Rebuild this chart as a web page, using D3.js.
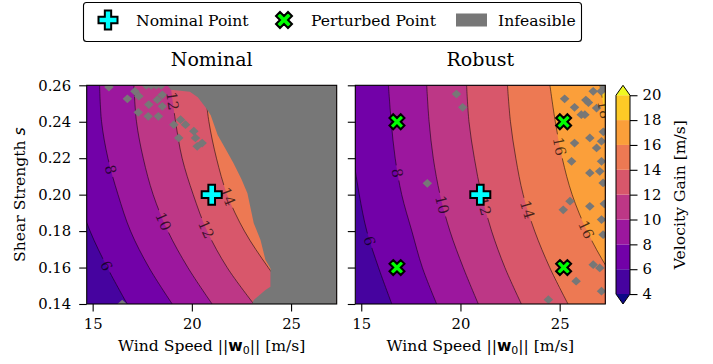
<!DOCTYPE html>
<html>
<head>
<meta charset="utf-8">
<script src="https://cdn.jsdelivr.net/npm/d3@7"></script>
<style>
  body { margin: 0; background: #fff; }
  text { font-family: "DejaVu Serif", serif; }
</style>
</head>
<body>
<svg id="chart" width="713" height="364"></svg>
<script>
// grid extent of the sweep (nominal +-30%)
const windRange = [14.7, 27.3];
const shearRange = [0.14, 0.26];

// shear rows at which the contour crossings were read
const shearRows = [0.14, 0.16, 0.18, 0.20, 0.22, 0.24, 0.26];

// nominal design: wind speed where each contour level crosses each shear row
const nominalLevels = [6, 8, 10, 12, 14];
const nominalWind = [
  [16.74, 15.74, 14.87, 14.22, 13.75, 13.45, 13.30],
  [19.01, 17.84, 16.91, 16.28, 15.77, 15.45, 15.35],
  [21.02, 19.80, 18.79, 18.05, 17.55, 17.21, 17.08],
  [23.12, 21.78, 20.77, 20.07, 19.51, 19.18, 18.93],
  [25.20, 23.85, 22.65, 21.78, 21.24, 20.86, 20.64]
];

// robust design
const robustLevels = [6, 8, 10, 12, 14, 16, 18];
const robustWind = [
  [16.54, 15.87, 15.28, 14.90, 14.61, 14.40, 14.28],
  [18.80, 18.08, 17.55, 17.04, 16.71, 16.51, 16.37],
  [20.90, 20.14, 19.47, 18.97, 18.63, 18.42, 18.30],
  [23.07, 22.24, 21.57, 21.06, 20.70, 20.43, 20.31],
  [25.42, 24.50, 23.74, 23.16, 22.79, 22.52, 22.37],
  [28.58, 27.38, 26.38, 25.63, 25.13, 24.78, 24.51],
  [31.00, 29.70, 28.70, 28.00, 27.60, 27.35, 27.03]
];

// inline contour labels: level and shear where they sit
const nominalLabelLevels = [6, 8, 10, 12, 14, 12];
const nominalLabelShear = [0.161, 0.2137, 0.1853, 0.181, 0.199, 0.2514];
const robustLabelLevels = [6, 8, 10, 12, 14, 16, 16, 18];
const robustLabelShear = [0.1747, 0.2119, 0.1945, 0.1936, 0.1918, 0.2265, 0.1808, 0.2466];

// infeasible region of the nominal design (edge, top to bottom)
const nominalInfeasibleEdge = [
  [18.75, 0.26], [18.95, 0.2575], [19.9, 0.2565], [20.3, 0.2535], [20.75, 0.247],
  [20.95, 0.2435], [21.3, 0.2327], [21.7, 0.225], [22.1, 0.2172], [22.5, 0.2085],
  [22.8, 0.2007], [23.12, 0.1843], [23.46, 0.1751], [23.71, 0.1641], [23.96, 0.1596],
  [23.96, 0.1495], [23.71, 0.1477], [23.12, 0.1422], [23.04, 0.14]
];

// isolated infeasible grid points [wind, shear]
const nominalInfeasible = [
  [15.82, 0.259], [16.49, 0.14], [16.75, 0.2526], [17.13, 0.2567], [17.33, 0.254],
  [17.30, 0.2452], [17.80, 0.243], [18.31, 0.243], [17.83, 0.2494], [18.26, 0.2521],
  [18.51, 0.2548], [18.51, 0.2485], [17.7, 0.26], [17.95, 0.26], [18.2, 0.26],
  [18.45, 0.26], [19.09, 0.2384], [19.43, 0.2411], [19.68, 0.2384], [19.34, 0.2311],
  [20.10, 0.2348], [20.18, 0.2311], [20.52, 0.2283], [20.27, 0.2265]
];
const robustInfeasible = [
  [19.80, 0.2552], [20.11, 0.2479], [18.33, 0.2062], [25.25, 0.2526], [25.75, 0.2479],
  [26.09, 0.2439], [26.32, 0.2519], [26.45, 0.2505], [26.69, 0.2567], [27.09, 0.2567],
  [27.25, 0.259], [26.86, 0.2475], [26.27, 0.2439], [26.52, 0.2311], [27.11, 0.2293],
  [26.86, 0.2256], [27.11, 0.2183], [25.75, 0.2283], [25.60, 0.2183], [26.52, 0.2119],
  [27.02, 0.2128], [27.19, 0.2064], [25.52, 0.1964], [25.18, 0.1917], [26.52, 0.1936],
  [27.11, 0.1863], [27.19, 0.178], [26.69, 0.1616], [27.02, 0.1598], [25.83, 0.1525],
  [27.11, 0.147], [24.43, 0.1424], [27.2, 0.2345], [27.25, 0.195]
];

const nominalPoint = [21.0, 0.20];
const perturbedPoints = [[16.8, 0.24], [25.2, 0.24], [16.8, 0.16], [25.2, 0.16]];

const cbarLevels = [4, 6, 8, 10, 12, 14, 16, 18, 20];

// ---------------------------------------------------------------
const svg = d3.select("#chart");
const TOP = 85.3, BOT = 304;
const GRAY = "#777777";
const FS = 14.8;     // tick labels
const LFS = 15.6;    // axis labels, legend
const dW = 0.24, dS = 0.0024;   // half size of a masked grid cell

const y = d3.scaleLinear().domain(shearRange).range([BOT, TOP]);
const binColor = i => d3.interpolatePlasma(i / 9);
const aboveColor = lv => binColor((lv - 4) / 2 + 1);

const defs = svg.append("defs");

function plusPath(s) {
  const a = s / 2, b = s / 6;
  return `M${-b},${-a}H${b}V${-b}H${a}V${b}H${b}V${a}H${-b}V${b}H${-a}V${-b}H${-b}Z`;
}
function xPath(s) {
  const k = s / 4;
  const v = [[-1,-2],[0,-1],[1,-2],[2,-1],[1,0],[2,1],[1,2],[0,1],[-1,2],[-2,1],[-1,0],[-2,-1]];
  return "M" + v.map(p => `${p[0]*k},${p[1]*k}`).join("L") + "Z";
}

function panel(id, left, right, title, levels, winds, labLv, labS, edge, pts, showY) {
  const x = d3.scaleLinear().domain(windRange).range([left, right]);
  const g = svg.append("g");

  defs.append("clipPath").attr("id", "clip-" + id)
    .append("rect").attr("x", left).attr("y", TOP).attr("width", right - left).attr("height", BOT - TOP);
  const mask = defs.append("mask").attr("id", "mask-" + id).attr("maskUnits", "userSpaceOnUse")
    .attr("x", 0).attr("y", 0).attr("width", 713).attr("height", 364);
  mask.append("rect").attr("width", 713).attr("height", 364).attr("fill", "#fff");

  const plot = g.append("g").attr("clip-path", `url(#clip-${id})`);
  plot.append("rect").attr("x", left).attr("y", TOP).attr("width", right - left)
    .attr("height", BOT - TOP).attr("fill", binColor(1));

  const line = d3.line().x(d => x(d[0])).y(d => y(d[1])).curve(d3.curveCatmullRom);
  const rows = winds.map(ws => ws.map((w, i) => [w, shearRows[i]]));

  // filled bands, painted left to right
  rows.forEach((r, k) => {
    plot.append("path")
      .attr("d", line(r) + `L${right + 60},${TOP}L${right + 60},${BOT}Z`)
      .attr("fill", aboveColor(levels[k]));
  });

  // contour lines (gaps cut by the label mask)
  const lg = plot.append("g").attr("mask", `url(#mask-${id})`);
  const nodes = rows.map(r => lg.append("path").attr("d", line(r))
    .attr("fill", "none").attr("stroke", "#000").attr("stroke-opacity", 0.65)
    .attr("stroke-width", 0.8).node());

  // infeasible area
  if (edge) {
    const poly = edge.concat([[windRange[1] + 1, shearRange[0] - 0.01], [windRange[1] + 1, shearRange[1] + 0.01], [edge[0][0], shearRange[1] + 0.01]]);
    plot.append("path").attr("d", d3.line().x(d => x(d[0])).y(d => y(d[1]))(poly) + "Z").attr("fill", GRAY);
  }
  plot.selectAll(".inf").data(pts).join("path").attr("class", "inf")
    .attr("d", d => `M${x(d[0] - dW)},${y(d[1])}L${x(d[0])},${y(d[1] + dS)}L${x(d[0] + dW)},${y(d[1])}L${x(d[0])},${y(d[1] - dS)}Z`)
    .attr("fill", GRAY);

  // contour labels
  labLv.forEach((lv, i) => {
    const node = nodes[levels.indexOf(lv)];
    const target = y(labS[i]);
    const L = node.getTotalLength();
    let lo = 0, hi = L;
    for (let it = 0; it < 40; it++) {
      const mid = (lo + hi) / 2;
      if (node.getPointAtLength(mid).y > target) lo = mid; else hi = mid;
    }
    const len = (lo + hi) / 2;
    const p = node.getPointAtLength(len);
    const p1 = node.getPointAtLength(Math.max(0, len - 3));
    const p2 = node.getPointAtLength(Math.min(L, len + 3));
    let a = Math.atan2(p2.y - p1.y, p2.x - p1.x) * 180 / Math.PI;
    if (a > 90) a -= 180;
    if (a < -90) a += 180;
    const tf = `translate(${p.x},${p.y}) rotate(${a})`;
    const t = plot.append("text").attr("transform", tf).attr("text-anchor", "middle")
      .attr("dy", "0.36em").attr("font-size", 14.5).attr("fill", "#000").attr("fill-opacity", 0.7)
      .text(lv);
    const w = t.node().getComputedTextLength();
    mask.append("rect").attr("transform", tf).attr("x", -w / 2 - 3).attr("y", -7)
      .attr("width", w + 6).attr("height", 14).attr("fill", "#000");
  });

  // frame
  g.append("rect").attr("x", left).attr("y", TOP).attr("width", right - left)
    .attr("height", BOT - TOP).attr("fill", "none").attr("stroke", "#000").attr("stroke-width", 1.1);

  // axes
  const xa = g.append("g").attr("transform", `translate(0,${BOT})`)
    .call(d3.axisBottom(x).tickValues([15, 20, 25]).tickSize(7.5).tickPadding(7));
  const ya = g.append("g").attr("transform", `translate(${left},0)`)
    .call(d3.axisLeft(y).tickValues(shearRows).tickSize(7.5).tickPadding(8)
      .tickFormat(showY ? d3.format(".2f") : () => ""));
  [xa, ya].forEach(a => {
    a.select(".domain").remove();
    a.attr("font-family", null).attr("font-size", FS);
    a.selectAll("line").attr("stroke", "#000").attr("stroke-width", 1.1);
    a.selectAll("text").attr("fill", "#000");
  });

  g.append("text").attr("x", (left + right) / 2).attr("y", 66).attr("text-anchor", "middle")
    .attr("font-size", 19).text(title);

  const xl = g.append("text").attr("x", (left + right) / 2).attr("y", 351)
    .attr("text-anchor", "middle").attr("font-size", LFS);
  xl.append("tspan").text("Wind Speed ||");
  xl.append("tspan").attr("font-family", "DejaVu Sans").attr("font-weight", "bold").text("w");
  xl.append("tspan").attr("font-family", "DejaVu Sans").attr("font-size", 11).attr("dy", 3).text("0");
  xl.append("tspan").attr("dy", -3).text("|| [m/s]");

  return x;
}

const xN = panel("nom", 86.7, 336.7, "Nominal", nominalLevels, nominalWind,
  nominalLabelLevels, nominalLabelShear, nominalInfeasibleEdge, nominalInfeasible, true);
const xR = panel("rob", 355.3, 605.3, "Robust", robustLevels, robustWind,
  robustLabelLevels, robustLabelShear, null, robustInfeasible, false);

// markers
function plusMark(sel, cx, cy, s) {
  sel.append("path").attr("d", plusPath(s)).attr("transform", `translate(${cx},${cy})`)
    .attr("fill", "#00ffff").attr("stroke", "#000").attr("stroke-width", 2);
}
function xMark(sel, cx, cy, s) {
  sel.append("path").attr("d", xPath(s)).attr("transform", `translate(${cx},${cy})`)
    .attr("fill", "#00ff00").attr("stroke", "#000").attr("stroke-width", 2);
}
plusMark(svg, xN(nominalPoint[0]), y(nominalPoint[1]), 20);
perturbedPoints.forEach(p => xMark(svg, xR(p[0]), y(p[1]), 15));
plusMark(svg, xR(nominalPoint[0]), y(nominalPoint[1]), 20);

// y label
const yl = svg.append("text").attr("transform", `translate(25,${(TOP + BOT) / 2}) rotate(-90)`)
  .attr("text-anchor", "middle").attr("font-size", LFS);
yl.append("tspan").text("Shear Strength ");
yl.append("tspan").attr("font-family", "DejaVu Sans").attr("font-style", "italic").text("s");

// colorbar
const CB0 = 616, CB1 = 630;
const ext = (BOT - TOP) / 1.1 * 0.05;
const cy = d3.scaleLinear().domain([4, 20]).range([BOT - ext, TOP + ext]);
const cb = svg.append("g");
cbarLevels.slice(0, -1).forEach((lv, i) => {
  cb.append("rect").attr("x", CB0).attr("y", cy(cbarLevels[i + 1])).attr("width", CB1 - CB0)
    .attr("height", cy(lv) - cy(cbarLevels[i + 1])).attr("fill", binColor(i + 1));
});
cb.append("path").attr("d", `M${CB0},${cy(20)}L${(CB0 + CB1) / 2},${TOP}L${CB1},${cy(20)}Z`).attr("fill", binColor(9));
cb.append("path").attr("d", `M${CB0},${cy(4)}L${(CB0 + CB1) / 2},${BOT}L${CB1},${cy(4)}Z`).attr("fill", binColor(0));
cb.append("path")
  .attr("d", `M${CB0},${cy(20)}L${(CB0 + CB1) / 2},${TOP}L${CB1},${cy(20)}L${CB1},${cy(4)}L${(CB0 + CB1) / 2},${BOT}L${CB0},${cy(4)}Z`)
  .attr("fill", "none").attr("stroke", "#000").attr("stroke-width", 1);
const ca = cb.append("g").attr("transform", `translate(${CB1},0)`)
  .call(d3.axisRight(cy).tickValues(cbarLevels).tickSize(7.5).tickPadding(5));
ca.select(".domain").remove();
ca.attr("font-family", null).attr("font-size", FS);
ca.selectAll("line").attr("stroke", "#000").attr("stroke-width", 1.1);
ca.selectAll("text").attr("fill", "#000");
svg.append("text").attr("transform", `translate(685,${(TOP + BOT) / 2}) rotate(-90)`)
  .attr("text-anchor", "middle").attr("font-size", LFS).text("Velocity Gain [m/s]");

// legend
const lgd = svg.append("g");
lgd.append("rect").attr("x", 83.5).attr("y", 2.5).attr("width", 498).attr("height", 39).attr("rx", 3)
  .attr("fill", "#fff").attr("stroke", "#000").attr("stroke-width", 1.1);
plusMark(lgd, 108, 20, 19);
lgd.append("text").attr("x", 136).attr("y", 25.5).attr("font-size", LFS).text("Nominal Point");
xMark(lgd, 284, 20, 16);
lgd.append("text").attr("x", 311).attr("y", 25.5).attr("font-size", LFS).text("Perturbed Point");
lgd.append("rect").attr("x", 456).attr("y", 13.5).attr("width", 31).attr("height", 13).attr("fill", GRAY);
lgd.append("text").attr("x", 498).attr("y", 25.5).attr("font-size", LFS).text("Infeasible");
</script>
</body>
</html>
